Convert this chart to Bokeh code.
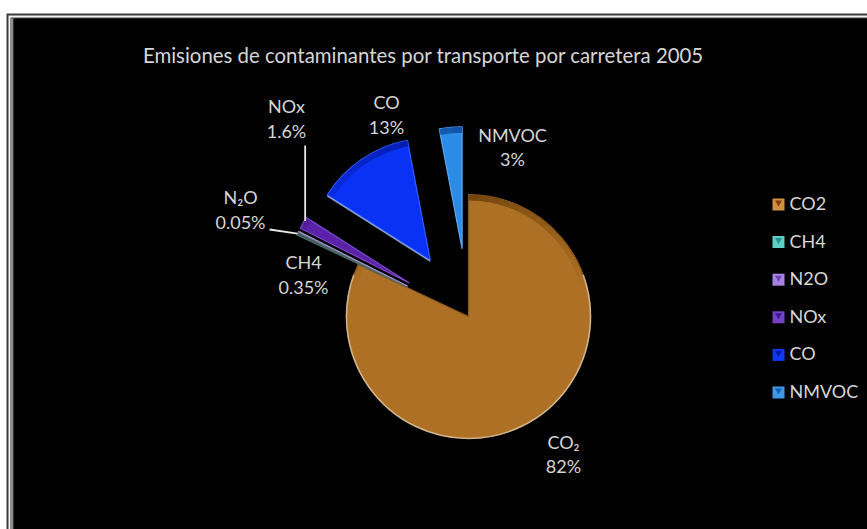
import math
from bokeh.plotting import figure
from bokeh.core.properties import value
from bokeh.embed import file_html
from bokeh.resources import INLINE

title = "Emisiones de contaminantes por transporte por carretera 2005"
categories = ["CO2", "CH4", "N2O", "NOx", "CO", "NMVOC"]
shares = [82, 0.35, 0.05, 1.6, 13, 3]
share_labels = ["82%", "0.35%", "0.05%", "1.6%", "13%", "3%"]
pie_names = ["CO\u2082", "CH4", "N\u2082O", "NOx", "CO", "NMVOC"]
pie_colors = ["#AE7024", "#3E5F5C", "#8E78B8", "#5A22A8", "#0A32F5", "#2B8BE6"]
rim_colors = ["#6E420E", "#2A4442", "#5E4C84", "#2E0C70", "#0618A0", "#0F4FA0"]
edge_colors = ["#8A5A1E", "#4A6A68", "#A08CC8", "#7A48C8", "#2E60FF", "#5CA8F0"]
glow_colors = ["#DCC4A2", "#6F8B88", "#B5A6D4", "#9A78D8", "#A8BCF0", "#A8D0F4"]
legend_colors = ["#CF9040", "#5CCFC6", "#A583E0", "#7440C4", "#0E38F2", "#3E98E4"]
legend_marks = ["#8A3A10", "#2A9088", "#6A44B0", "#3A1A90", "#0818A0", "#1560B0"]

W, H = 867, 529
TEXT = "#D6D6D6"
FONT = value("Lato")

p = figure(width=W, height=H, x_range=(0, W), y_range=(H, 0),
           output_backend="svg", toolbar_location=None, min_border=0,
           x_axis_location=None, y_axis_location=None,
           background_fill_color="white", border_fill_color="white", outline_line_color=None)
p.xgrid.visible = False
p.ygrid.visible = False


def box(x0, x1, y0, y1, c):
    p.quad(left=[x0], right=[x1], top=[y0], bottom=[y1], fill_color=c, line_color=None)


# frame and background
box(6, 867, 13, 529, "#3A3A3A")
box(8, 867, 15, 529, "#F2F2F2")
box(10, 867, 17, 529, "#444444")
box(10, 13, 18, 529, "#8A8A8A")
box(13, 867, 18, 529, "#000000")

# pie
CX, CY, R, EXPLODE = 468, 316, 122, 68
explode = [0, 1, 1, 1, 1, 1]
CAP = 75      # half width, in degrees, of the shaded bevel round 12 o'clock
CAP_STEP = 5
BEVEL = 6

cum = 0.0
rows = []
for s, col, rim, edge, glow, ex in zip(shares, pie_colors, rim_colors, edge_colors, glow_colors, explode):
    a0 = cum * 3.6
    a1 = (cum + s) * 3.6
    mid = math.radians((a0 + a1) / 2)
    rows.append(dict(cx=CX + ex * EXPLODE * math.sin(mid), cy=CY - ex * EXPLODE * math.cos(mid),
                     a0=a0, a1=a1, col=col, rim=rim, edge=edge, glow=glow, mid=mid))
    cum += s


def ang(deg):
    return math.radians(90 - deg)


for r in rows:
    p.wedge(x=[r["cx"]], y=[r["cy"]], radius=R, start_angle=ang(r["a0"]), end_angle=ang(r["a1"]), direction="clock",
            fill_color=r["col"], line_color=r["edge"], line_width=1.2)
    # soft light rim along the lower part of the arc
    low0, low1 = max(r["a0"], 70), min(r["a1"], 290)
    if low1 > low0:
        p.arc(x=[r["cx"]], y=[r["cy"]], radius=R, start_angle=ang(low0), end_angle=ang(low1), direction="clock",
              line_color=r["glow"], line_width=1.6, line_alpha=0.85)
    # dark bevel that fades away from 12 o'clock
    for t in range(-CAP, CAP, CAP_STEP):
        for base in (0, 360):
            b0 = max(r["a0"], base + t)
            b1 = min(r["a1"], base + t + CAP_STEP)
            if b1 > b0:
                alpha = 0.95 * (1 - abs(t + CAP_STEP / 2) / CAP)
                p.annular_wedge(x=[r["cx"]], y=[r["cy"]], inner_radius=R - BEVEL, outer_radius=R,
                                start_angle=ang(b0), end_angle=ang(b1), direction="clock",
                                fill_color=r["rim"], fill_alpha=alpha, line_color=None)

# pale glow on the lower radial edge of the CO slice
co = rows[4]
co_a = math.radians(co["a0"])
p.line([co["cx"], co["cx"] + R * math.sin(co_a)], [co["cy"] + 1, co["cy"] - R * math.cos(co_a) + 1],
       line_color=co["glow"], line_width=1.4, line_alpha=0.8)

# leader lines start at the outer tip of their slice
nox = rows[3]
n2o = rows[2]
tip_nox = (nox["cx"] + R * math.sin(nox["mid"]), nox["cy"] - R * math.cos(nox["mid"]))
tip_n2o = (n2o["cx"] + R * math.sin(n2o["mid"]), n2o["cy"] - R * math.cos(n2o["mid"]))
p.line([tip_nox[0] + 2, tip_nox[0] + 2], [tip_nox[1] - 2, 145], line_color="#E8E8E8", line_width=1.8)
p.line([tip_n2o[0] - 1, 269], [tip_n2o[1] + 2, 229], line_color="#E8E8E8", line_width=1.8)


def label(x, y, txt, size="18px", align="center"):
    p.text(x=[x], y=[y - 1.5], text=[txt], text_color=TEXT, text_font=FONT, text_font_size=size,
           text_align=align, text_baseline="middle")


label(423, 56, title, "20.4px")

label_pos = [(563, 443, 467), (303, 263, 288), (240, 198, 223), (286, 107, 132), (386, 103, 128), (512, 136, 160)]
for (x, y1, y2), n, sl in zip(label_pos, pie_names, share_labels):
    label(x, y1, n)
    label(x, y2, sl)

# legend
LEG_X0, LEG_X1, LEG_Y, LEG_STEP = 772, 784, 204, 37.6
for i, (n, c, m) in enumerate(zip(categories, legend_colors, legend_marks)):
    y = LEG_Y + i * LEG_STEP
    box(LEG_X0, LEG_X1, y - 6, y + 6, c)
    p.scatter(x=[(LEG_X0 + LEG_X1) / 2], y=[y - 2], marker="inverted_triangle", size=7,
              fill_color=m, line_color=None)
    label(789, y, n, "18px", "left")

open("out.html", "w").write(file_html(p, INLINE))
